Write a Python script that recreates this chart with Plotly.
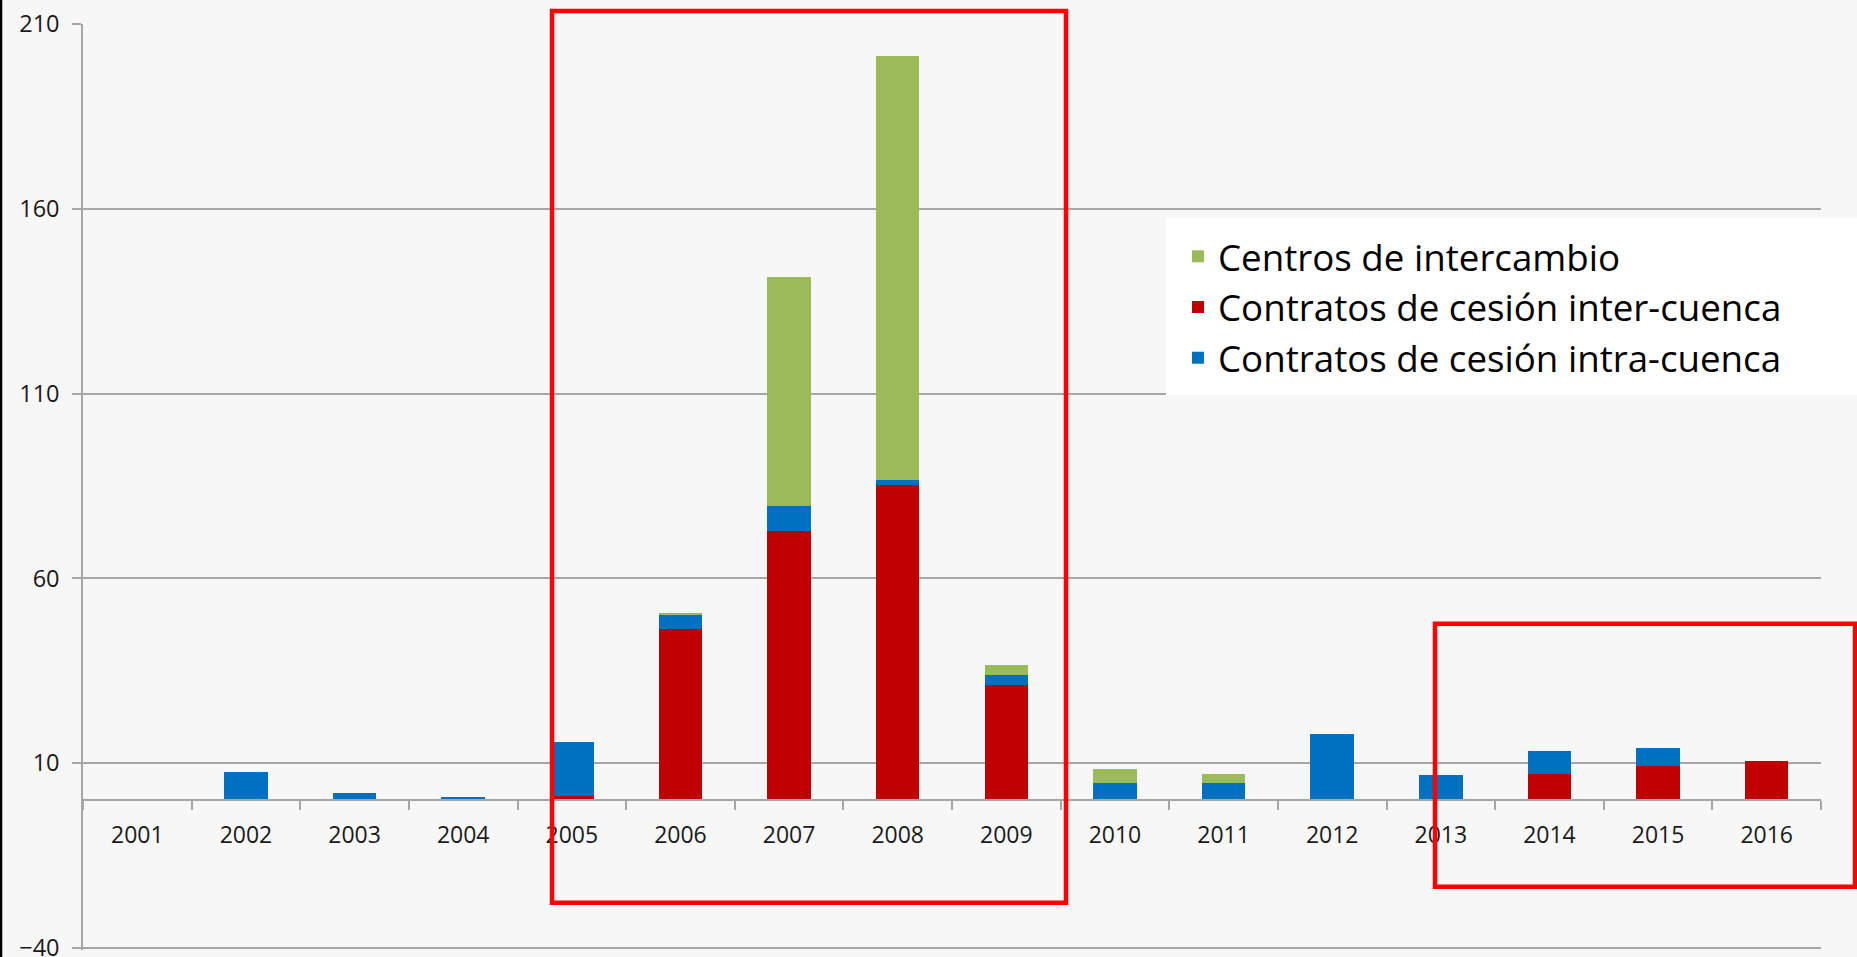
import plotly.graph_objects as go

# ---- data ----
years = ['2001', '2002', '2003', '2004', '2005', '2006', '2007', '2008',
         '2009', '2010', '2011', '2012', '2013', '2014', '2015', '2016']
inter_cuenca = [0, 0, 0, 0, 1.2, 46.4, 72.8, 85.2, 31.0, 0, 0, 0, 0, 6.9, 9.1, 10.5]
intra_cuenca = [0, 7.7, 1.8, 0.8, 14.5, 3.7, 6.7, 1.3, 2.7, 4.6, 4.7, 17.8, 6.7, 6.3, 4.9, 0]
centros = [0, 0, 0, 0, 0, 0.4, 62.1, 114.8, 2.8, 3.8, 2.4, 0, 0, 0, 0, 0]
y_ticks = [-40, 10, 60, 110, 160, 210]

W, H = 1857, 957
ymin, ymax = -40.6, 210
K = 924 / 250.0           # pixels per unit
L, R, T = 83, 36, 24
PH = (ymax - ymin) * K
B = H - T - PH
PW = W - L - R


def px(x):
    return (x - L) / PW


def py(y):
    return (H - B - y) / PH


FONT = "Open Sans"
GRID = "#a6a6a6"

fig = go.Figure()
fig.add_trace(go.Bar(x=years, y=inter_cuenca, name="Contratos de cesión inter-cuenca",
                     marker=dict(color="#C00000", line=dict(width=0)), legendrank=2))
fig.add_trace(go.Bar(x=years, y=intra_cuenca, name="Contratos de cesión intra-cuenca",
                     marker=dict(color="#0070C0", line=dict(width=0)), legendrank=3))
fig.add_trace(go.Bar(x=years, y=centros, name="Centros de intercambio",
                     marker=dict(color="#9BBB59", line=dict(width=0)), legendrank=1))

shapes = [
    # white legend panel
    dict(type="rect", xref="paper", yref="paper", x0=px(1166), x1=px(1860),
         y0=py(395), y1=py(218), fillcolor="white", line=dict(width=0), layer="above"),
    # red highlight boxes
    dict(type="rect", xref="paper", yref="paper", x0=px(552), x1=px(1066),
         y0=py(903), y1=py(11), line=dict(color="#FF0000", width=4.5), layer="above"),
    dict(type="rect", xref="paper", yref="paper", x0=px(1435), x1=px(1855),
         y0=py(887), y1=py(624), line=dict(color="#FF0000", width=4.5), layer="above"),
    # slide left edge
    dict(type="line", xref="paper", yref="paper", x0=px(1), x1=px(1),
         y0=py(960), y1=py(-3), line=dict(color="#000000", width=2.5)),
]

fig.update_layout(
    width=W, height=H,
    margin=dict(l=L, r=R, t=T, b=B, pad=0, autoexpand=False),
    barmode="stack", bargap=0.6,
    paper_bgcolor="#f7f7f7", plot_bgcolor="#f7f7f7",
    font=dict(family=FONT, color="#1a1a1a", size=23),
    showlegend=True,
    legend=dict(x=px(1178), y=py(226), xanchor="left", yanchor="top",
                traceorder="normal",
                bgcolor="rgba(0,0,0,0)", font=dict(family=FONT, size=36.7, color="#000000"),
                itemwidth=30, tracegroupgap=0),
    xaxis=dict(type="category", anchor="free", position=(0 - ymin) / (ymax - ymin),
               automargin=False,
               showline=True, linecolor=GRID, linewidth=1.5,
               ticks="outside", tickson="boundaries", ticklen=9, tickcolor=GRID, tickwidth=1.5,
               showgrid=False, tickfont=dict(family=FONT, size=23, color="#1a1a1a"),
               ticklabelstandoff=15),
    yaxis=dict(range=[ymin, ymax], tickmode="array", tickvals=y_ticks,
               automargin=False,
               showline=True, linecolor=GRID, linewidth=1.5,
               ticks="outside", ticklen=9, tickcolor=GRID, tickwidth=1.5,
               showgrid=True, gridcolor=GRID, gridwidth=1.5, zeroline=False,
               tickfont=dict(family=FONT, size=23.5, color="#1a1a1a"),
               ticklabelstandoff=8, ticklabeloverflow="allow"),
    shapes=shapes,
)

fig.write_html("out.html", config={"displayModeBar": False},
               post_script="document.body.style.margin='0';document.body.style.overflow='hidden';")
